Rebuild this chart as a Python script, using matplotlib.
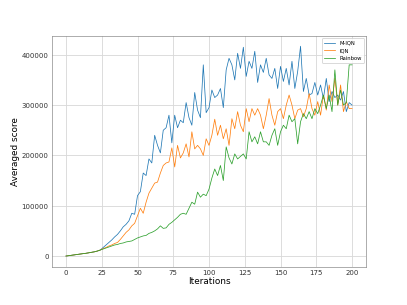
import matplotlib
matplotlib.use("Agg")
import matplotlib.pyplot as plt
import numpy as np

iterations = np.arange(0, 201, 2)

m_iqn = [
    0, 800, 1600, 2400, 3200, 4000, 4800, 5500, 6500, 7500, 8500, 10000,
    12000, 17000, 22000, 27000, 32000, 38000, 43000, 50000, 58000, 63000,
    70000, 85000, 83000, 120000, 128000, 165000, 160000, 193000, 185000,
    240000, 220000, 205000, 250000, 255000, 280000, 225000, 280000, 255000,
    270000, 265000, 305000, 275000, 260000, 325000, 290000, 275000, 380000,
    285000, 295000, 330000, 315000, 320000, 333000, 295000, 370000, 393000,
    380000, 350000, 403000, 373000, 415000, 357000, 387000, 373000, 407000,
    345000, 380000, 365000, 393000, 360000, 353000, 373000, 333000, 377000,
    347000, 373000, 340000, 387000, 333000, 367000, 417000, 327000, 353000,
    320000, 323000, 345000, 320000, 340000, 313000, 353000, 307000, 327000,
    315000, 320000, 310000, 327000, 287000, 305000, 300000,
]

iqn = [
    0, 800, 1600, 2400, 3200, 4000, 4800, 5500, 6500, 7500, 8500, 10000,
    12000, 15000, 17000, 20000, 22000, 25000, 27000, 33000, 40000, 47000,
    52000, 60000, 65000, 80000, 95000, 85000, 107000, 125000, 135000,
    145000, 147000, 165000, 180000, 185000, 187000, 215000, 177000, 220000,
    195000, 205000, 223000, 197000, 247000, 213000, 220000, 213000, 200000,
    233000, 220000, 240000, 272000, 240000, 260000, 233000, 253000, 220000,
    273000, 253000, 287000, 260000, 247000, 293000, 267000, 293000, 280000,
    293000, 280000, 253000, 280000, 313000, 280000, 260000, 287000, 293000,
    273000, 300000, 320000, 300000, 273000, 290000, 293000, 277000, 293000,
    323000, 293000, 280000, 307000, 280000, 320000, 290000, 340000, 307000,
    353000, 300000, 340000, 287000, 307000, 293000, 293000,
]

rainbow = [
    0, 800, 1600, 2400, 3200, 4000, 4800, 5500, 6500, 7500, 8500, 10000,
    12000, 14000, 16000, 18000, 20000, 22000, 23000, 25000, 26000, 28000,
    29000, 30000, 33000, 36000, 38000, 40000, 41000, 45000, 47000,
    50000, 54000, 60000, 55000, 56000, 63000, 67000, 72000, 77000,
    83000, 85000, 83000, 95000, 107000, 103000, 127000, 117000, 123000,
    120000, 133000, 155000, 173000, 160000, 180000, 150000, 217000, 195000,
    183000, 203000, 193000, 198000, 203000, 193000, 247000, 227000, 237000,
    223000, 247000, 227000, 227000, 220000, 240000, 253000, 220000, 247000,
    260000, 253000, 280000, 267000, 273000, 223000, 267000, 283000, 273000,
    287000, 273000, 293000, 283000, 300000, 320000, 293000, 320000, 287000,
    370000, 300000, 330000, 300000, 305000, 380000, 380000,
]

fig, ax = plt.subplots(figsize=(6.4, 4.8), dpi=63.6)
fig.subplots_adjust(left=0.127, right=0.9, top=0.882, bottom=0.126)

ax.plot(iterations, m_iqn, color="#1f77b4", lw=0.85, label="M-IQN")
ax.plot(iterations, iqn, color="#ff7f0e", lw=0.85, label="IQN")
ax.plot(iterations, rainbow, color="#2ca02c", lw=0.85, label="Rainbow")

ax.grid(True, color="0.85", lw=1)
ax.set_axisbelow(True)
for s in ax.spines.values():
    s.set_color("0.55")
ax.tick_params(colors="0.2", labelsize=8, length=0, pad=3.5)
ax.set_xlabel("Iterations", fontsize=10, labelpad=1)
ax.set_ylabel("Averaged score", fontsize=10, labelpad=2)
ax.legend(loc="upper right", fontsize=6)

fig.savefig("out.png", dpi=63.6)
